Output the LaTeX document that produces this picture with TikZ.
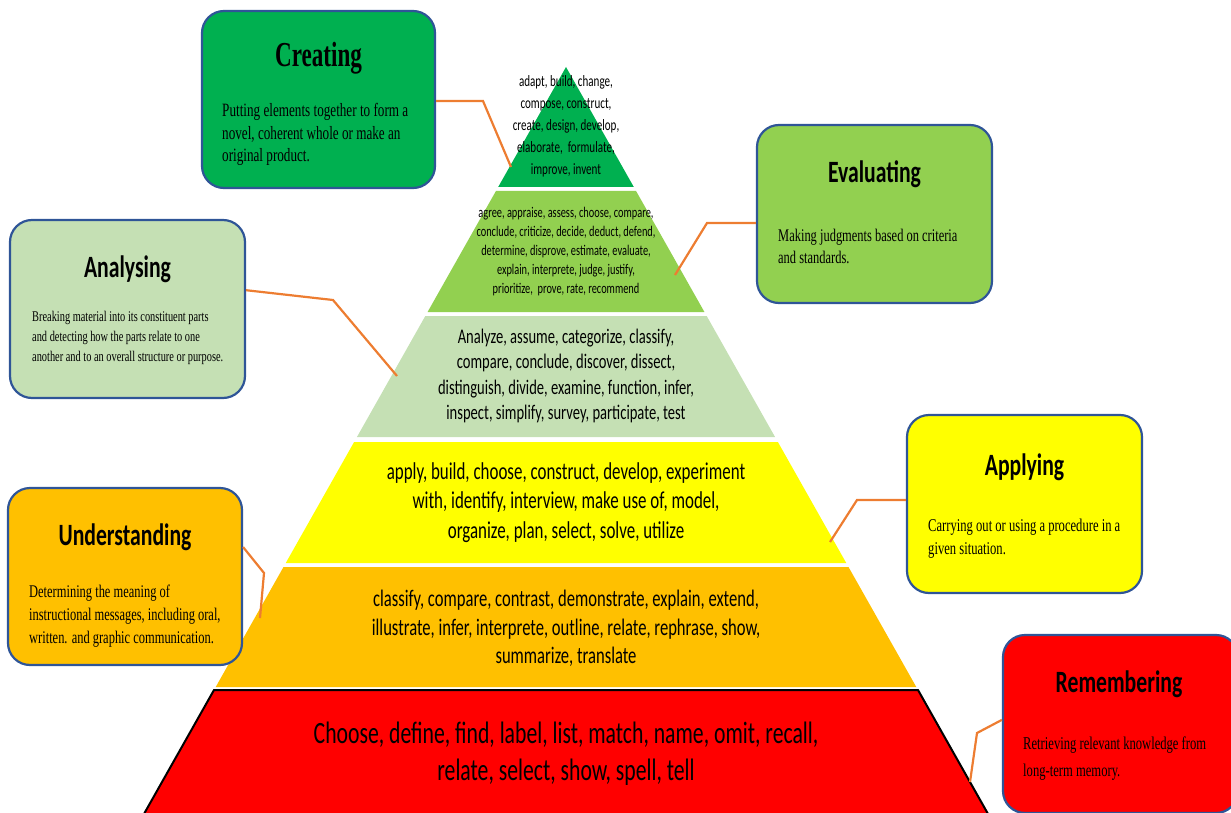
\documentclass[tikz,border=0pt]{standalone}
\usepackage{fontspec}
\newfontfamily\pyr[FakeStretch=0.7]{Carlito}
\newfontfamily\tms[FakeStretch=0.7]{Liberation Serif}
\newfontfamily\tmsT[FakeStretch=0.66]{Liberation Serif}
\definecolor{cgreen}{HTML}{00B050}
\definecolor{lgreen}{HTML}{92D050}
\definecolor{pgreen}{HTML}{C5E0B4}
\definecolor{cyel}{HTML}{FFFF00}
\definecolor{corange}{HTML}{FFC000}
\definecolor{cred}{HTML}{FF0000}
\definecolor{cblue}{HTML}{2F5597}
\definecolor{conncol}{HTML}{ED7D31}
\newcommand\pyrlayer[4]{\fill[#1,#4] ({566-0.565*(#2-67)},#2) -- ({566+0.565*(#2-67)},#2) -- ({566+0.565*(#3-67)},#3) -- ({566-0.565*(#3-67)},#3) -- cycle;}
\begin{document}
\begin{tikzpicture}[x=1pt,y=-1pt,
 box/.style={draw=cblue, line width=2.2pt, rounded corners=22pt, minimum width=233pt, minimum height=177pt, inner sep=0},
 ttl/.style={anchor=base, inner sep=0, font={\pyr\bfseries\fontsize{31}{37}\selectfont}},
 desc/.style={anchor=west, align=left, inner sep=0},
 ptxt/.style={align=center, inner sep=0},
 link/.style={draw=conncol, line width=2.2pt},
]
\useasboundingbox (0,0) rectangle (1231,813);
\clip (0,0) rectangle (1231,813);

% pyramid layers
\pyrlayer{cgreen}{67}{187}{}
\pyrlayer{lgreen}{191}{312}{}
\pyrlayer{pgreen}{316}{437}{}
\pyrlayer{cyel}{442}{563}{}
\pyrlayer{corange}{567}{687}{}
\pyrlayer{cred}{690}{840}{draw=black, line width=2pt}

% pyramid texts
\node[ptxt, font={\pyr\fontsize{15.8}{22}\selectfont}] (t1) at (566,126)
 {adapt, build, change,\\ compose, construct,\\ create, design, develop,\\ elaborate,\ \ formulate,\\ improve, invent};
\node[ptxt, font={\pyr\fontsize{14.8}{19}\selectfont}] (t2) at (566,251.5)
 {agree, appraise, assess, choose, compare,\\ conclude, criticize, decide, deduct, defend,\\ determine, disprove, estimate, evaluate,\\ explain, interprete, judge, justify,\\ prioritize,\ \ prove, rate, recommend};
\node[ptxt, font={\pyr\fontsize{20.8}{25.3}\selectfont}] (t3) at (566,376)
 {Analyze, assume, categorize, classify,\\ compare, conclude, discover, dissect,\\ distinguish, divide, examine, function, infer,\\ inspect, simplify, survey, participate, test};
\node[ptxt, font={\pyr\fontsize{24.2}{29.5}\selectfont}] (t4) at (566,502.5)
 {apply, build, choose, construct, develop, experiment\\ with, identify, interview, make use of, model,\\ organize, plan, select, solve, utilize};
\node[ptxt, font={\pyr\fontsize{23.7}{28.5}\selectfont}] (t5) at (566,628.5)
 {classify, compare, contrast, demonstrate, explain, extend,\\ illustrate, infer, interprete, outline, relate, rephrase, show,\\ summarize, translate};
\node[ptxt, font={\pyr\fontsize{31}{37}\selectfont}] (t6) at (566,753.5)
 {Choose, define, find, label, list, match, name, omit, recall,\\ relate, select, show, spell, tell};

% connector coordinates
\coordinate (k1) at (483,101); \coordinate (e1) at (511,167);
\coordinate (k2) at (707,223); \coordinate (e2) at (675,275);
\coordinate (k3) at (333,300); \coordinate (e3) at (397,376);
\coordinate (k4) at (857,500); \coordinate (e4) at (830,542);
\coordinate (k5) at (264,573); \coordinate (e5) at (260,618);
\coordinate (k6) at (977,733); \coordinate (e6) at (970,782);

% boxes
\node[box, fill=cgreen, minimum width=233pt] (cre) at (318.5,99.5) {};
\node[box, fill=lgreen, minimum width=235pt, minimum height=178pt] (ev) at (874.5,214) {};
\node[box, fill=pgreen, minimum width=235pt, minimum height=178pt] (an) at (127.5,309) {};
\node[box, fill=cyel, minimum width=235pt, minimum height=178pt] (ap) at (1024.5,504) {};
\node[box, fill=corange, minimum width=234pt] (un) at (125,576.5) {};
\node[box, fill=cred, minimum width=235pt, minimum height=178pt] (rem) at (1120.5,724) {};

% connectors
\draw[link] (cre.east |- k1) -- (k1) -- (e1);
\draw[link] (ev.west |- k2) -- (k2) -- (e2);
\draw[link] (an.9) -- (k3) -- (e3);
\draw[link] (ap.west |- k4) -- (k4) -- (e4);
\draw[link] (un.14) -- (k5) -- (e5);
\draw[link] (rem.178) -- (k6) -- (e6);

% titles
\node[anchor=base, inner sep=0, font={\tmsT\bfseries\fontsize{35}{40}\selectfont}] (creT) at (318.5,67) {Creating};
\node[ttl] (evT) at (874.5,183) {Evaluating};
\node[ttl] (anT) at (127.5,277) {Analysing};
\node[ttl] (apT) at (1024.5,475) {Applying};
\node[ttl] (unT) at (125,545) {Understanding};
\node[ttl] (remT) at (1119,692) {Remembering};

% descriptions
\node[desc, font={\tms\fontsize{18.8}{22.5}\selectfont}] (creD) at (222,134.5)
 {Putting elements together to form a\\ novel, coherent whole or make an\\ original product.};
\node[desc, font={\tms\fontsize{17.8}{22}\selectfont}] (evD) at (778,246)
 {Making judgments based on criteria\\ and standards.};
\node[desc, font={\tms\fontsize{14.8}{20}\selectfont}] (anD) at (32,338)
 {Breaking material into its constituent parts\\ and detecting how the parts relate to one\\ another and to an overall structure or purpose.};
\node[desc, font={\tms\fontsize{18}{23}\selectfont}] (apD) at (928,538.5)
 {Carrying out or using a procedure in a\\ given situation.};
\node[desc, font={\tms\fontsize{17.8}{23}\selectfont}] (unD) at (29,616)
 {Determining the meaning of\\ instructional messages, including oral,\\ written. and graphic communication.};
\node[desc, font={\tms\fontsize{18}{27}\selectfont}] (remD) at (1023,758.5)
 {Retrieving relevant knowledge from\\ long-term memory.};
\end{tikzpicture}
\end{document}
